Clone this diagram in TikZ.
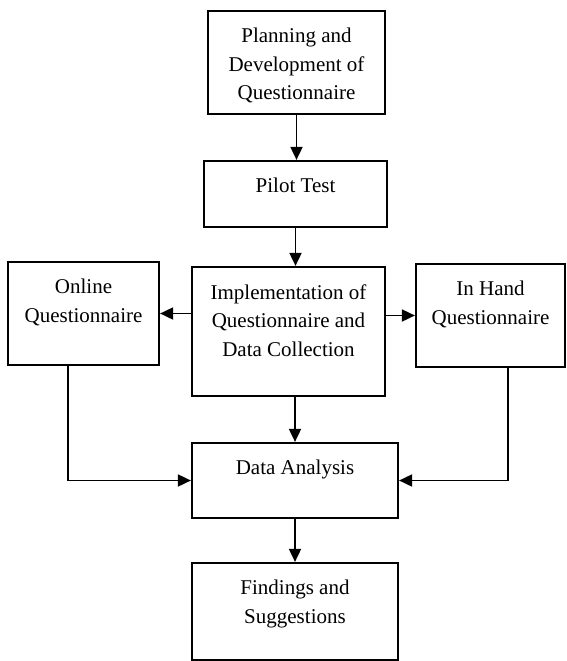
\documentclass[tikz,border=0pt]{standalone}
\usepackage{fontspec}
\setmainfont{Liberation Serif}
\usetikzlibrary{positioning,arrows.meta}

\tikzset{every picture/.style={line width=0.75pt}}
\tikzset{
	stagebox/.style={draw, rectangle, line width=2.2pt, inner sep=0pt},
	stagetext/.style={align=center, inner sep=0pt, font=\fontsize{21}{28.5}\selectfont},
	flowarrow/.style={line width=1.8pt, -{Triangle[length=13pt,width=12pt]}}
}

\begin{document}
\begin{tikzpicture}[x=1pt,y=-1pt]
	\useasboundingbox (0,0) rectangle (566,661);

	%Shape: Rectangle [plan]
	\node [stagebox, minimum width=177pt, minimum height=103pt] (plan) at (296.5,62.5) {};
	%Shape: Rectangle [pilot]
	\node [stagebox, minimum width=183pt, minimum height=66pt] (pilot) at (295.5,194) {};
	%Shape: Rectangle [impl]
	\node [stagebox, minimum width=193pt, minimum height=129pt] (impl) at (288.5,331.5) {};
	%Shape: Rectangle [online]
	\node [stagebox, minimum width=151pt, minimum height=103pt] (online) at (83.5,313.5) {};
	%Shape: Rectangle [hand]
	\node [stagebox, minimum width=149pt, minimum height=103pt] (hand) at (490.5,315.5) {};
	%Shape: Rectangle [data]
	\node [stagebox, minimum width=206pt, minimum height=75pt] (data) at (295,480.5) {};
	%Shape: Rectangle [find]
	\node [stagebox, minimum width=206pt, minimum height=97pt] (find) at (295,611.5) {};

	% Text Node
	\node [stagetext, below=18pt of plan.north] (plantext) {Planning and\\Development of\\Questionnaire};
	% Text Node
	\node [stagetext, below=18pt of pilot.north] (pilottext) {Pilot Test};
	% Text Node
	\node [stagetext, below=18pt of impl.north] (impltext) {Implementation of\\Questionnaire and\\Data Collection};
	% Text Node
	\node [stagetext, below=18pt of online.north] (onlinetext) {Online\\Questionnaire};
	% Text Node
	\node [stagetext, below=18pt of hand.north] (handtext) {In Hand\\Questionnaire};
	% Text Node
	\node [stagetext, below=18pt of data.north] (datatext) {Data Analysis};
	% Text Node
	\node [stagetext, below=18pt of find.north] (findtext) {Findings and\\Suggestions};

	%Straight Lines
	\draw [flowarrow] (plan.south) -- (plan.south |- pilot.north);
	\draw [flowarrow] (pilot.south) -- (pilot.south |- impl.north);
	\draw [flowarrow] (impl.west |- online.east) -- (online.east);
	\draw [flowarrow] (impl.east |- hand.west) -- (hand.west);
	\draw [flowarrow] (data.north |- impl.south) -- (data.north);
	\draw [flowarrow] (data.south) -- (find.north);
	%Elbow Lines
	\draw [flowarrow] ([xshift=-15.5pt]online.south) |- (data.west);
	\draw [flowarrow] ([xshift=17.5pt]hand.south) |- (data.east);

\end{tikzpicture}
\end{document}
